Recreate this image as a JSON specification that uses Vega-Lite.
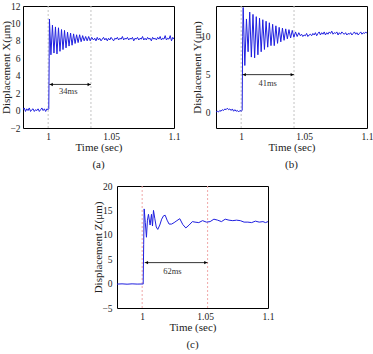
{
"$schema":"https://vega.github.io/schema/vega-lite/v6.json",
"background":"white",
"padding":{"left":0,"top":0,"right":0,"bottom":0},
"config":{
 "font":"Liberation Serif",
 "view":{"stroke":"black","strokeWidth":1},
 "axis":{"domain":false,"grid":false,"ticks":false,"labelFont":"Liberation Serif","titleFont":"Liberation Serif","labelFontSize":9.5,"titleFontSize":11,"titleFontWeight":"normal","labelColor":"#222","titleColor":"#222","labelFlush":false,"labelOverlap":false,"labelBound":false,"tickCount":20,"format":"~g"},
 "axisX":{"titlePadding":1,"labelPadding":3},
 "axisY":{"titlePadding":-2},
 "title":{"font":"Liberation Serif","fontSize":11,"fontWeight":"normal","orient":"bottom","offset":6,"color":"#222"}
},
"spacing":10,
"vconcat":[
{"spacing":10,"hconcat":[
{"width":151,"height":122,"title":{"text":"(a)"},
"layer":[
{"data":{"values":[{"t":1},{"t":1.034}]},"mark":{"type":"rule","color":"#c4c4c4","strokeDash":[2,2],"strokeWidth":1},
 "encoding":{"x":{"field":"t","type":"quantitative","scale":{"domain":[0.98,1.1],"nice":false,"zero":false},"axis":{"values":[1,1.05,1.1],"format":"~g","title":"Time (sec)","tickCount":20}}}},
{"data":{"values":[
{"t":0.980,"v":0.1},{"t":0.981,"v":0.3},{"t":0.982,"v":-0.1},{"t":0.983,"v":0.2},{"t":0.984,"v":0.0},{"t":0.985,"v":0.3},{"t":0.986,"v":-0.1},{"t":0.987,"v":0.1},{"t":0.988,"v":0.2},{"t":0.989,"v":-0.1},{"t":0.990,"v":0.1},{"t":0.991,"v":0.0},{"t":0.992,"v":0.2},{"t":0.993,"v":-0.1},{"t":0.994,"v":0.1},{"t":0.995,"v":0.3},{"t":0.996,"v":0.0},{"t":0.997,"v":0.2},{"t":0.998,"v":-0.1},{"t":0.999,"v":0.2},{"t":1.000,"v":0.1},{"t":1.0005,"v":0.2},{"t":1.0008,"v":6.0},
{"t":1.0010,"v":10.5},{"t":1.0022,"v":6.4},{"t":1.0034,"v":9.8},{"t":1.0046,"v":6.6},{"t":1.0058,"v":9.6},{"t":1.0070,"v":6.5},{"t":1.0082,"v":9.5},{"t":1.0094,"v":6.8},{"t":1.0106,"v":9.3},{"t":1.0118,"v":7.0},{"t":1.0130,"v":9.2},{"t":1.0142,"v":7.2},{"t":1.0154,"v":9.0},{"t":1.0166,"v":7.4},{"t":1.0178,"v":8.9},{"t":1.0190,"v":7.5},{"t":1.0202,"v":8.8},{"t":1.0214,"v":7.7},{"t":1.0226,"v":8.7},{"t":1.0238,"v":7.8},{"t":1.0250,"v":8.7},{"t":1.0262,"v":7.9},{"t":1.0274,"v":8.6},{"t":1.0286,"v":8.0},{"t":1.0298,"v":8.5},{"t":1.0310,"v":8.0},{"t":1.0322,"v":8.5},{"t":1.0334,"v":8.0},{"t":1.0346,"v":8.4},
{"t":1.036,"v":8.1},{"t":1.037,"v":8.3},{"t":1.038,"v":8.0},{"t":1.039,"v":8.4},{"t":1.040,"v":8.1},{"t":1.041,"v":8.3},{"t":1.042,"v":8.0},{"t":1.043,"v":8.2},{"t":1.044,"v":8.4},{"t":1.045,"v":8.1},{"t":1.046,"v":8.3},{"t":1.047,"v":8.0},{"t":1.048,"v":8.3},{"t":1.049,"v":8.1},{"t":1.050,"v":8.4},{"t":1.051,"v":8.2},{"t":1.052,"v":8.0},{"t":1.053,"v":8.3},{"t":1.054,"v":8.2},{"t":1.055,"v":8.4},{"t":1.056,"v":8.1},{"t":1.057,"v":8.3},{"t":1.058,"v":8.2},{"t":1.059,"v":8.5},{"t":1.060,"v":8.1},{"t":1.061,"v":8.3},{"t":1.062,"v":8.2},{"t":1.063,"v":8.4},{"t":1.064,"v":8.1},{"t":1.065,"v":8.3},{"t":1.066,"v":8.2},{"t":1.067,"v":8.4},{"t":1.068,"v":8.0},{"t":1.069,"v":8.3},{"t":1.070,"v":8.2},{"t":1.071,"v":8.4},{"t":1.072,"v":8.1},{"t":1.073,"v":8.3},{"t":1.074,"v":8.2},{"t":1.075,"v":8.5},{"t":1.076,"v":8.1},{"t":1.077,"v":8.3},{"t":1.078,"v":8.1},{"t":1.079,"v":8.4},{"t":1.080,"v":8.2},{"t":1.081,"v":8.3},{"t":1.082,"v":8.0},{"t":1.083,"v":8.4},{"t":1.084,"v":8.2},{"t":1.085,"v":8.3},{"t":1.086,"v":8.1},{"t":1.087,"v":8.4},{"t":1.088,"v":8.2},{"t":1.089,"v":8.5},{"t":1.090,"v":8.1},{"t":1.091,"v":8.3},{"t":1.092,"v":8.2},{"t":1.093,"v":8.6},{"t":1.094,"v":8.1},{"t":1.095,"v":8.3},{"t":1.096,"v":8.2},{"t":1.097,"v":8.6},{"t":1.098,"v":8.0},{"t":1.099,"v":8.4},{"t":1.100,"v":8.2}
]},"mark":{"type":"line","color":"#1f1fe0","strokeWidth":1,"clip":true},
 "encoding":{"x":{"field":"t","type":"quantitative","scale":{"domain":[0.98,1.1],"nice":false,"zero":false}},
 "y":{"field":"v","type":"quantitative","scale":{"domain":[-2,12],"nice":false,"zero":false},"axis":{"values":[-2,0,2,4,6,8,10,12],"tickCount":20,"format":"~g","title":"Displacement X(μm)","labelPadding":3}}}},
{"data":{"values":[{"t":1.001,"t2":1.034,"v":3}]},"mark":{"type":"rule","color":"black","strokeWidth":0.8},
 "encoding":{"x":{"field":"t","type":"quantitative","scale":{"domain":[0.98,1.1],"nice":false,"zero":false}},"x2":{"field":"t2"},"y":{"field":"v","type":"quantitative","scale":{"domain":[-2,12],"nice":false,"zero":false}}}},
{"data":{"values":[{"t":1.0025,"v":3}]},"mark":{"type":"point","shape":"triangle-left","filled":true,"color":"black","size":12,"opacity":1},
 "encoding":{"x":{"field":"t","type":"quantitative","scale":{"domain":[0.98,1.1],"nice":false,"zero":false}},"y":{"field":"v","type":"quantitative","scale":{"domain":[-2,12],"nice":false,"zero":false}}}},
{"data":{"values":[{"t":1.0325,"v":3}]},"mark":{"type":"point","shape":"triangle-right","filled":true,"color":"black","size":12,"opacity":1},
 "encoding":{"x":{"field":"t","type":"quantitative","scale":{"domain":[0.98,1.1],"nice":false,"zero":false}},"y":{"field":"v","type":"quantitative","scale":{"domain":[-2,12],"nice":false,"zero":false}}}},
{"data":{"values":[{"t":1.016,"v":2.2,"label":"34ms"}]},"mark":{"type":"text","fontSize":8.5,"font":"Liberation Serif","color":"#333"},
 "encoding":{"x":{"field":"t","type":"quantitative","scale":{"domain":[0.98,1.1],"nice":false,"zero":false}},"y":{"field":"v","type":"quantitative","scale":{"domain":[-2,12],"nice":false,"zero":false}},"text":{"field":"label"}}}
]},
{"width":151,"height":122,"title":{"text":"(b)"},
"layer":[
{"data":{"values":[{"t":1},{"t":1.042}]},"mark":{"type":"rule","color":"#c4c4c4","strokeDash":[2,2],"strokeWidth":1},
 "encoding":{"x":{"field":"t","type":"quantitative","scale":{"domain":[0.98,1.1],"nice":false,"zero":false},"axis":{"values":[1,1.05,1.1],"format":"~g","title":"Time (sec)","tickCount":20}}}},
{"data":{"values":[
{"t":0.980,"v":0.1},{"t":0.981,"v":0.2},{"t":0.982,"v":0.1},{"t":0.983,"v":0.3},{"t":0.984,"v":0.2},{"t":0.985,"v":0.4},{"t":0.986,"v":0.3},{"t":0.987,"v":0.5},{"t":0.988,"v":0.4},{"t":0.989,"v":0.6},{"t":0.990,"v":0.4},{"t":0.991,"v":0.5},{"t":0.992,"v":0.3},{"t":0.993,"v":0.5},{"t":0.994,"v":0.2},{"t":0.995,"v":0.4},{"t":0.996,"v":0.2},{"t":0.997,"v":0.3},{"t":0.998,"v":0.1},{"t":0.999,"v":0.3},{"t":1.000,"v":0.2},{"t":1.0008,"v":0.3},{"t":1.0012,"v":10.0},{"t":1.0016,"v":13.8},
{"t":1.0029,"v":6.2},{"t":1.0042,"v":12.3},{"t":1.0055,"v":8.0},{"t":1.0068,"v":13.2},{"t":1.0081,"v":7.3},{"t":1.0094,"v":12.9},{"t":1.0107,"v":7.2},{"t":1.0120,"v":12.6},{"t":1.0133,"v":7.6},{"t":1.0146,"v":12.4},{"t":1.0159,"v":8.0},{"t":1.0172,"v":12.2},{"t":1.0185,"v":8.3},{"t":1.0198,"v":12.0},{"t":1.0211,"v":8.6},{"t":1.0224,"v":11.8},{"t":1.0237,"v":8.8},{"t":1.0250,"v":11.6},{"t":1.0263,"v":8.8},{"t":1.0276,"v":11.4},{"t":1.0289,"v":9.1},{"t":1.0302,"v":11.2},{"t":1.0315,"v":9.3},{"t":1.0328,"v":11.1},{"t":1.0341,"v":9.5},{"t":1.0354,"v":11.0},{"t":1.0367,"v":9.7},{"t":1.0380,"v":10.9},{"t":1.0393,"v":9.8},{"t":1.0406,"v":10.8},{"t":1.0419,"v":9.9},{"t":1.0432,"v":10.6},{"t":1.0445,"v":10.0},{"t":1.0458,"v":10.5},
{"t":1.047,"v":10.1},{"t":1.048,"v":10.3},{"t":1.049,"v":10.0},{"t":1.050,"v":10.2},{"t":1.051,"v":10.1},{"t":1.052,"v":10.4},{"t":1.053,"v":10.0},{"t":1.054,"v":10.2},{"t":1.055,"v":10.3},{"t":1.056,"v":10.1},{"t":1.057,"v":10.4},{"t":1.058,"v":10.2},{"t":1.059,"v":10.5},{"t":1.060,"v":10.1},{"t":1.061,"v":10.4},{"t":1.062,"v":10.6},{"t":1.063,"v":10.2},{"t":1.064,"v":10.5},{"t":1.065,"v":10.3},{"t":1.066,"v":10.6},{"t":1.067,"v":10.2},{"t":1.068,"v":10.5},{"t":1.069,"v":10.3},{"t":1.070,"v":10.6},{"t":1.071,"v":10.4},{"t":1.072,"v":10.7},{"t":1.073,"v":10.3},{"t":1.074,"v":10.5},{"t":1.075,"v":10.4},{"t":1.076,"v":10.6},{"t":1.077,"v":10.2},{"t":1.078,"v":10.5},{"t":1.079,"v":10.3},{"t":1.080,"v":10.6},{"t":1.081,"v":10.4},{"t":1.082,"v":10.3},{"t":1.083,"v":10.5},{"t":1.084,"v":10.2},{"t":1.085,"v":10.4},{"t":1.086,"v":10.3},{"t":1.087,"v":10.5},{"t":1.088,"v":10.2},{"t":1.089,"v":10.4},{"t":1.090,"v":10.6},{"t":1.091,"v":10.3},{"t":1.092,"v":10.5},{"t":1.093,"v":10.2},{"t":1.094,"v":10.4},{"t":1.095,"v":10.6},{"t":1.096,"v":10.3},{"t":1.097,"v":10.5},{"t":1.098,"v":10.4},{"t":1.099,"v":10.6},{"t":1.100,"v":10.4}
]},"mark":{"type":"line","color":"#1f1fe0","strokeWidth":1,"clip":true},
 "encoding":{"x":{"field":"t","type":"quantitative","scale":{"domain":[0.98,1.1],"nice":false,"zero":false}},
 "y":{"field":"v","type":"quantitative","scale":{"domain":[-2,14],"nice":false,"zero":false},"axis":{"values":[0,5,10],"tickCount":20,"format":"~g","title":"Displacement Y(μm)","labelPadding":6}}}},
{"data":{"values":[{"t":1.001,"t2":1.042,"v":5}]},"mark":{"type":"rule","color":"black","strokeWidth":0.8},
 "encoding":{"x":{"field":"t","type":"quantitative","scale":{"domain":[0.98,1.1],"nice":false,"zero":false}},"x2":{"field":"t2"},"y":{"field":"v","type":"quantitative","scale":{"domain":[-2,14],"nice":false,"zero":false}}}},
{"data":{"values":[{"t":1.0025,"v":5}]},"mark":{"type":"point","shape":"triangle-left","filled":true,"color":"black","size":12,"opacity":1},
 "encoding":{"x":{"field":"t","type":"quantitative","scale":{"domain":[0.98,1.1],"nice":false,"zero":false}},"y":{"field":"v","type":"quantitative","scale":{"domain":[-2,14],"nice":false,"zero":false}}}},
{"data":{"values":[{"t":1.0405,"v":5}]},"mark":{"type":"point","shape":"triangle-right","filled":true,"color":"black","size":12,"opacity":1},
 "encoding":{"x":{"field":"t","type":"quantitative","scale":{"domain":[0.98,1.1],"nice":false,"zero":false}},"y":{"field":"v","type":"quantitative","scale":{"domain":[-2,14],"nice":false,"zero":false}}}},
{"data":{"values":[{"t":1.021,"v":3.9,"label":"41ms"}]},"mark":{"type":"text","fontSize":8.5,"font":"Liberation Serif","color":"#333"},
 "encoding":{"x":{"field":"t","type":"quantitative","scale":{"domain":[0.98,1.1],"nice":false,"zero":false}},"y":{"field":"v","type":"quantitative","scale":{"domain":[-2,14],"nice":false,"zero":false}},"text":{"field":"label"}}}
]}
]},
{"spacing":0,"hconcat":[
{"width":69,"height":10,"view":{"stroke":null},"data":{"values":[]},"mark":{"type":"point","opacity":0}},
{"width":151,"height":122,"title":{"text":"(c)"},
"layer":[
{"data":{"values":[{"t":1},{"t":1.052}]},"mark":{"type":"rule","color":"#f0a8a8","strokeDash":[2,2],"strokeWidth":1},
 "encoding":{"x":{"field":"t","type":"quantitative","scale":{"domain":[0.98,1.1],"nice":false,"zero":false},"axis":{"values":[1,1.05,1.1],"format":"~g","title":"Time (sec)","tickCount":20}}}},
{"data":{"values":[
{"t":0.980,"v":-0.1},{"t":0.984,"v":-0.05},{"t":0.988,"v":-0.12},{"t":0.992,"v":-0.05},{"t":0.996,"v":-0.1},{"t":1.000,"v":-0.08},{"t":1.0008,"v":-0.1},{"t":1.0012,"v":8.0},{"t":1.0016,"v":15.3},{"t":1.0025,"v":12.5},{"t":1.0034,"v":9.5},{"t":1.0042,"v":13.0},{"t":1.0050,"v":14.2},{"t":1.0063,"v":12.0},{"t":1.0074,"v":14.2},{"t":1.0082,"v":11.8},{"t":1.0090,"v":15.0},{"t":1.0100,"v":13.4},{"t":1.0112,"v":11.6},{"t":1.0124,"v":11.1},{"t":1.0140,"v":12.0},{"t":1.0155,"v":13.2},{"t":1.0170,"v":13.9},{"t":1.0183,"v":14.0},{"t":1.0198,"v":13.0},{"t":1.0214,"v":12.2},{"t":1.0234,"v":12.2},{"t":1.0254,"v":12.5},{"t":1.0276,"v":12.9},{"t":1.0299,"v":13.3},{"t":1.0323,"v":12.1},{"t":1.0347,"v":11.4},{"t":1.0373,"v":12.0},{"t":1.0399,"v":12.7},{"t":1.042,"v":12.6},{"t":1.045,"v":12.5},{"t":1.048,"v":12.9},{"t":1.051,"v":12.6},{"t":1.054,"v":12.7},{"t":1.057,"v":13.2},{"t":1.060,"v":13.0},{"t":1.063,"v":12.7},{"t":1.066,"v":13.2},{"t":1.069,"v":13.0},{"t":1.072,"v":12.9},{"t":1.075,"v":13.0},{"t":1.078,"v":12.9},{"t":1.081,"v":12.6},{"t":1.084,"v":12.6},{"t":1.087,"v":12.5},{"t":1.090,"v":12.8},{"t":1.093,"v":12.6},{"t":1.096,"v":12.7},{"t":1.098,"v":12.5},{"t":1.100,"v":12.7}
]},"mark":{"type":"line","color":"#1f1fe0","strokeWidth":1,"clip":true},
 "encoding":{"x":{"field":"t","type":"quantitative","scale":{"domain":[0.98,1.1],"nice":false,"zero":false}},
 "y":{"field":"v","type":"quantitative","scale":{"domain":[-5,20],"nice":false,"zero":false},"axis":{"values":[-5,0,5,10,15,20],"tickCount":20,"format":"~g","title":"Displacement Z(μm)","labelPadding":5}}}},
{"data":{"values":[{"t":1.002,"t2":1.052,"v":4.3}]},"mark":{"type":"rule","color":"black","strokeWidth":0.8},
 "encoding":{"x":{"field":"t","type":"quantitative","scale":{"domain":[0.98,1.1],"nice":false,"zero":false}},"x2":{"field":"t2"},"y":{"field":"v","type":"quantitative","scale":{"domain":[-5,20],"nice":false,"zero":false}}}},
{"data":{"values":[{"t":1.0035,"v":4.3}]},"mark":{"type":"point","shape":"triangle-left","filled":true,"color":"black","size":12,"opacity":1},
 "encoding":{"x":{"field":"t","type":"quantitative","scale":{"domain":[0.98,1.1],"nice":false,"zero":false}},"y":{"field":"v","type":"quantitative","scale":{"domain":[-5,20],"nice":false,"zero":false}}}},
{"data":{"values":[{"t":1.0505,"v":4.3}]},"mark":{"type":"point","shape":"triangle-right","filled":true,"color":"black","size":12,"opacity":1},
 "encoding":{"x":{"field":"t","type":"quantitative","scale":{"domain":[0.98,1.1],"nice":false,"zero":false}},"y":{"field":"v","type":"quantitative","scale":{"domain":[-5,20],"nice":false,"zero":false}}}},
{"data":{"values":[{"t":1.024,"v":2.6,"label":"62ms"}]},"mark":{"type":"text","fontSize":8.5,"font":"Liberation Serif","color":"#333"},
 "encoding":{"x":{"field":"t","type":"quantitative","scale":{"domain":[0.98,1.1],"nice":false,"zero":false}},"y":{"field":"v","type":"quantitative","scale":{"domain":[-5,20],"nice":false,"zero":false}},"text":{"field":"label"}}}
]}
]}
]
}
